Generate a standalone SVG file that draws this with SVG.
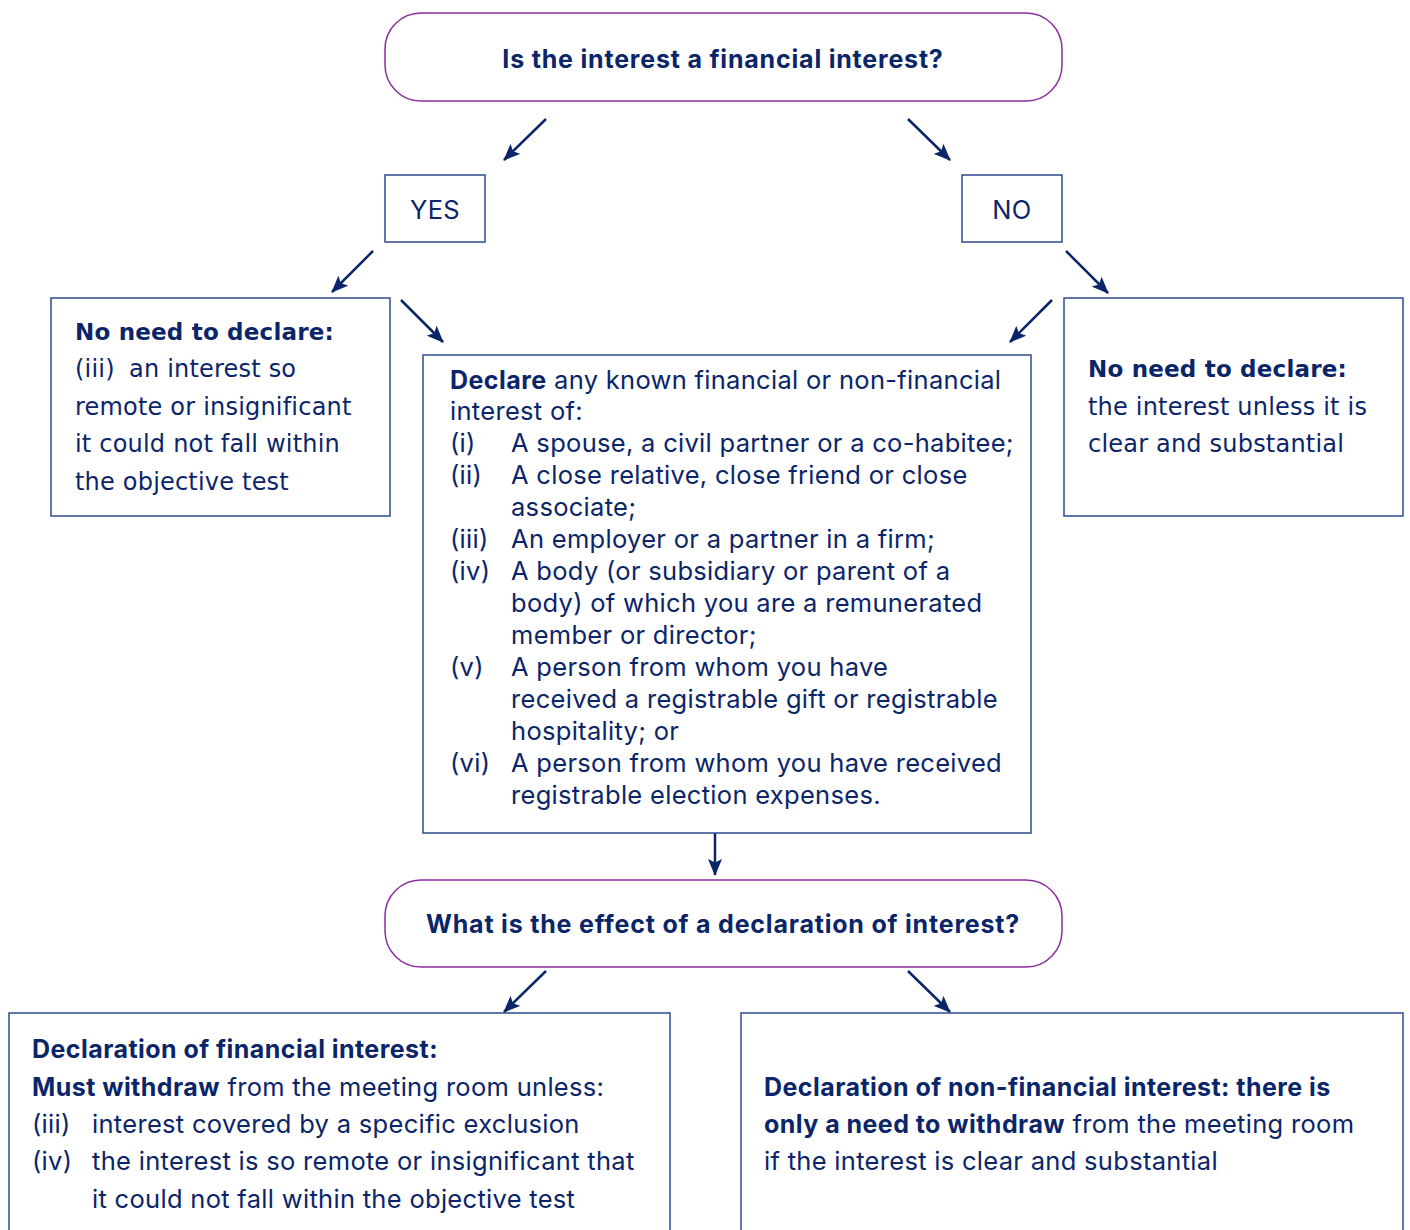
<svg xmlns="http://www.w3.org/2000/svg" width="1410" height="1230" viewBox="0 0 1410 1230">
<defs>
<style>
.t{fill:#0b2569;font-family:Inter,"Open Sans",sans-serif;font-size:25.5px;letter-spacing:0.3px}
.w{fill:#0b2569;font-family:"DejaVu Sans","Noto Sans",sans-serif;font-size:24px;letter-spacing:0.2px}
.b{font-weight:bold;font-size:25px;letter-spacing:0.45px}
.w .b,.w.b{font-size:23px;letter-spacing:0.2px}
.h{font-weight:bold;font-size:25px;letter-spacing:0.8px}
.box{fill:#fff;stroke:#2e4a8f;stroke-width:1.5}
.rnd{fill:#fff;stroke:#8a2d9c;stroke-width:1.5}
.c{stroke:#0b2569;stroke-width:2.5;fill:none}
</style>
<marker id="ah" viewBox="0 0 17 14" refX="16" refY="7" markerWidth="17" markerHeight="14" markerUnits="userSpaceOnUse" orient="auto">
<path d="M0,0 L17,7 L0,14 L3.5,7 Z" fill="#0b2569"/>
</marker>
</defs>
<rect width="1410" height="1230" fill="#fff"/>

<g id="connectors">
<line class="c" x1="546" y1="119" x2="504" y2="160" marker-end="url(#ah)"/>
<line class="c" x1="908" y1="119" x2="950" y2="160" marker-end="url(#ah)"/>
<line class="c" x1="373" y1="251" x2="332" y2="292" marker-end="url(#ah)"/>
<line class="c" x1="401" y1="300" x2="443" y2="342" marker-end="url(#ah)"/>
<line class="c" x1="1066" y1="251" x2="1108" y2="293" marker-end="url(#ah)"/>
<line class="c" x1="1052" y1="300" x2="1010" y2="342" marker-end="url(#ah)"/>
<line class="c" x1="715" y1="833" x2="715" y2="875" marker-end="url(#ah)"/>
<line class="c" x1="546" y1="971" x2="504" y2="1012" marker-end="url(#ah)"/>
<line class="c" x1="908" y1="971" x2="950" y2="1012" marker-end="url(#ah)"/>
</g>

<g id="q1">
<rect class="rnd" x="385" y="13" width="677" height="88" rx="36"/>
<text class="t h" x="723" y="68" text-anchor="middle">Is the interest a financial interest?</text>
</g>

<g id="yes">
<rect class="box" x="385" y="175" width="100" height="67"/>
<text class="t" x="435" y="219" text-anchor="middle">YES</text>
</g>

<g id="no">
<rect class="box" x="962" y="175" width="100" height="67"/>
<text class="t" x="1012" y="219" text-anchor="middle">NO</text>
</g>

<g id="no-need-left">
<rect class="box" x="51" y="298" width="339" height="218"/>
<text class="w b" x="75" y="340">No need to declare:</text>
<text class="w" x="75" y="377">(iii)<tspan x="129">an interest so</tspan></text>
<text class="w" x="75" y="415">remote or insignificant</text>
<text class="w" x="75" y="452">it could not fall within</text>
<text class="w" x="75" y="490">the objective test</text>
</g>

<g id="no-need-right">
<rect class="box" x="1064" y="298" width="339" height="218"/>
<text class="w b" x="1088" y="377">No need to declare:</text>
<text class="w" x="1088" y="415">the interest unless it is</text>
<text class="w" x="1088" y="452">clear and substantial</text>
</g>

<g id="declare">
<rect class="box" x="423" y="355" width="608" height="478"/>
<text class="t" x="450" y="389"><tspan class="b">Declare</tspan> any known financial or non-financial</text>
<text class="t" x="450" y="420">interest of:</text>
<text class="t" x="450" y="452">(i)</text><text class="t" x="511" y="452">A spouse, a civil partner or a co-habitee;</text>
<text class="t" x="450" y="484">(ii)</text><text class="t" x="511" y="484">A close relative, close friend or close</text>
<text class="t" x="511" y="516">associate;</text>
<text class="t" x="450" y="548">(iii)</text><text class="t" x="511" y="548">An employer or a partner in a firm;</text>
<text class="t" x="450" y="580">(iv)</text><text class="t" x="511" y="580">A body (or subsidiary or parent of a</text>
<text class="t" x="511" y="612">body) of which you are a remunerated</text>
<text class="t" x="511" y="644">member or director;</text>
<text class="t" x="450" y="676">(v)</text><text class="t" x="511" y="676">A person from whom you have</text>
<text class="t" x="511" y="708">received a registrable gift or registrable</text>
<text class="t" x="511" y="740">hospitality; or</text>
<text class="t" x="450" y="772">(vi)</text><text class="t" x="511" y="772">A person from whom you have received</text>
<text class="t" x="511" y="804">registrable election expenses.</text>
</g>

<g id="q2">
<rect class="rnd" x="385" y="880" width="677" height="87" rx="36"/>
<text class="t h" x="723" y="933" text-anchor="middle">What is the effect of a declaration of interest?</text>
</g>

<g id="financial">
<rect class="box" x="9" y="1013" width="661" height="240"/>
<text class="t b" x="32" y="1058">Declaration of financial interest:</text>
<text class="t" x="32" y="1096"><tspan class="b">Must withdraw</tspan> from the meeting room unless:</text>
<text class="t" x="32" y="1133">(iii)</text><text class="t" x="92" y="1133">interest covered by a specific exclusion</text>
<text class="t" x="32" y="1170">(iv)</text><text class="t" x="92" y="1170">the interest is so remote or insignificant that</text>
<text class="t" x="92" y="1208">it could not fall within the objective test</text>
</g>

<g id="non-financial">
<rect class="box" x="741" y="1013" width="662" height="240"/>
<text class="t b" x="764" y="1096">Declaration of non-financial interest: there is</text>
<text class="t" x="764" y="1133"><tspan class="b">only a need to withdraw</tspan> from the meeting room</text>
<text class="t" x="764" y="1170">if the interest is clear and substantial</text>
</g>
</svg>
